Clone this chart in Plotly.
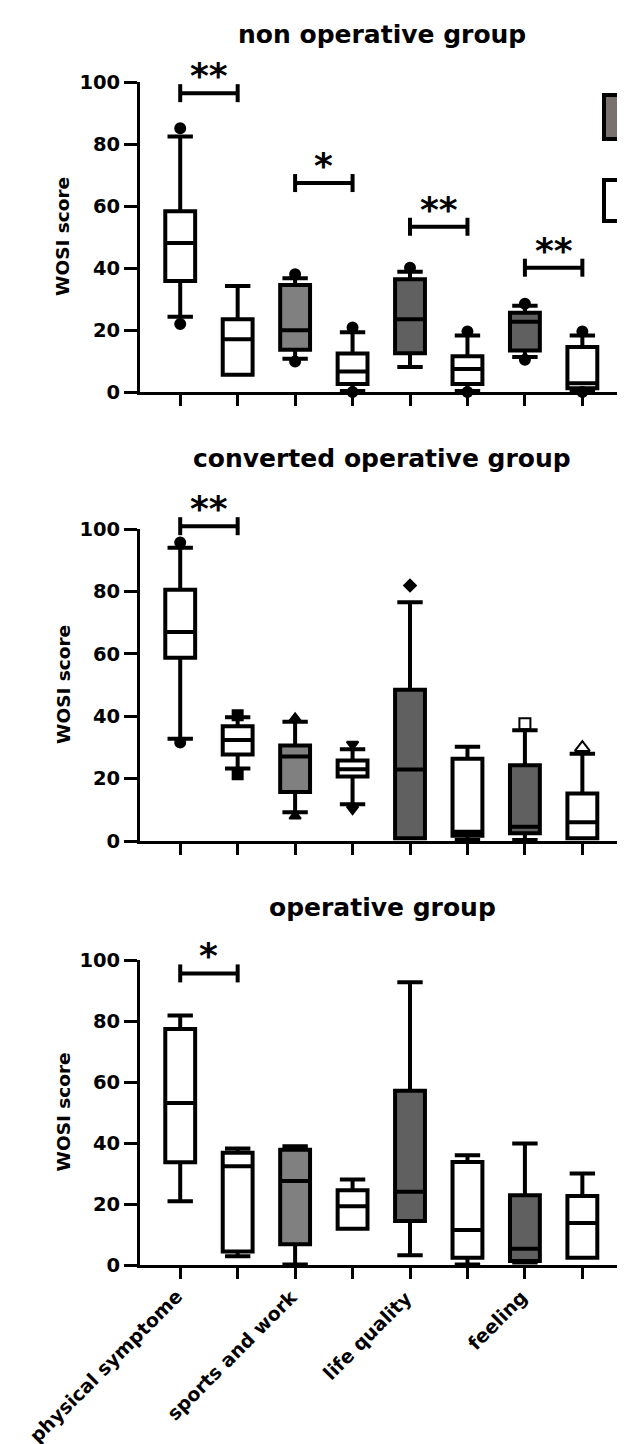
import plotly.graph_objects as go

FONT = "DejaVu Sans"

# ---------------- data ----------------
categories = ["physical symptome", "sports and work", "life quality", "feeling"]
category_pos = [0, 2, 4, 6]
panel_titles = ["non operative group", "converted operative group", "operative group"]
y_ticks = [0, 20, 40, 60, 80, 100]

WHITE = "#ffffff"
LIGHT = "#808080"
DARK = "#606060"
box_fills = [WHITE, WHITE, LIGHT, WHITE, DARK, WHITE, DARK, WHITE]

# non operative group
p1_upper = [82.4, 34.2, 36.7, 19.3, 38.8, 18.2, 27.8, 18.2]
p1_q3 = [58.3, 23.5, 34.5, 12.4, 36.4, 11.5, 25.6, 14.5]
p1_median = [48.1, 17.0, 19.9, 6.6, 23.5, 7.4, 22.7, 2.8]
p1_q1 = [35.8, 5.6, 13.6, 2.6, 12.5, 2.6, 13.4, 1.2]
p1_lower = [24.3, 5.6, 10.7, 0.3, 8.1, 0.3, 11.3, 0.3]
p1_out_box = [0, 0, 2, 2, 3, 3, 4, 5, 5, 6, 6, 7, 7]
p1_out_val = [85.1, 21.9, 38.0, 9.8, 20.8, 0.0, 40.1, 19.5, 0.0, 28.5, 10.4, 19.5, 0.0]
p1_out_sym = ["circle"] * 13

# converted operative group
p2_upper = [94.0, 39.7, 38.2, 29.4, 76.5, 30.2, 35.5, 28.0]
p2_q3 = [80.5, 36.8, 30.6, 25.8, 48.5, 26.4, 24.3, 15.2]
p2_median = [67.0, 32.4, 27.1, 23.0, 22.9, 3.0, 4.6, 6.0]
p2_q1 = [58.7, 27.7, 15.7, 20.7, 0.9, 1.7, 2.5, 0.9]
p2_lower = [32.8, 23.2, 9.2, 11.8, 0.9, 0.3, 0.3, 0.9]
p2_out_box = [0, 0, 1, 1, 2, 2, 3, 3, 4, 6, 7]
p2_out_val = [95.7, 31.6, 40.3, 21.4, 39.3, 8.0, 31.0, 10.2, 81.9, 37.6, 29.9]
p2_out_sym = ["circle", "circle", "square", "square", "triangle-up", "triangle-up",
              "triangle-down", "triangle-down", "diamond", "square-open", "triangle-up-open"]

# operative group
p3_upper = [81.8, 38.2, 38.9, 28.0, 92.7, 36.0, 39.8, 30.0]
p3_q3 = [77.4, 36.8, 37.8, 24.5, 57.1, 33.8, 22.9, 22.6]
p3_median = [53.1, 32.4, 27.5, 19.3, 24.0, 11.5, 5.3, 13.8]
p3_q1 = [33.7, 4.4, 6.8, 11.9, 14.4, 2.4, 1.3, 2.4]
p3_lower = [20.9, 2.9, 0.2, 11.9, 3.2, 0.2, 0.8, 2.4]
p3_out_box = []
p3_out_val = []
p3_out_sym = []

# significance brackets: (left box, right box, height, label)
p1_sig = [(0, 1, 96.4, "**"), (2, 3, 67.4, "*"), (4, 5, 53.3, "**"), (6, 7, 40.1, "**")]
p2_sig = [(0, 1, 100.9, "**")]
p3_sig = [(0, 1, 95.6, "*")]

panels = [
    (p1_upper, p1_q3, p1_median, p1_q1, p1_lower, p1_out_box, p1_out_val, p1_out_sym, p1_sig),
    (p2_upper, p2_q3, p2_median, p2_q1, p2_lower, p2_out_box, p2_out_val, p2_out_sym, p2_sig),
    (p3_upper, p3_q3, p3_median, p3_q1, p3_lower, p3_out_box, p3_out_val, p3_out_sym, p3_sig),
]

# ---------------- layout geometry ----------------
W, H = 625, 1444
x_range = [-0.70, 7.69]
x_dom = [132 / W, 614 / W]
y_doms = [[1 - 384 / H, 1 - 74 / H], [1 - 833 / H, 1 - 521 / H], [1 - 1257 / H, 1 - 952 / H]]
title_y = [1 - 26 / H, 1 - 450 / H, 1 - 899 / H]
y_range = [0, 100]
marker_sizes = {"diamond": 9, "square-open": 11, "triangle-up-open": 13}


def paper_x(v):
    return x_dom[0] + (v - x_range[0]) / (x_range[1] - x_range[0]) * (x_dom[1] - x_dom[0])


def paper_y(v, p):
    d = y_doms[p]
    return d[0] + (v - y_range[0]) / (y_range[1] - y_range[0]) * (d[1] - d[0])


fig = go.Figure()
shapes = []
annotations = []
bold = dict(family=FONT, color="black", weight="bold")

for p, (up, q3, med, q1, lo, ob, ov, osym, sig) in enumerate(panels):
    xa = "x" if p == 0 else f"x{p + 1}"
    ya = "y" if p == 0 else f"y{p + 1}"
    for i in range(8):
        fig.add_trace(go.Box(
            x=[i], q1=[q1[i]], median=[med[i]], q3=[q3[i]],
            lowerfence=[lo[i]], upperfence=[up[i]],
            width=0.52, whiskerwidth=0.85,
            fillcolor=box_fills[i], line=dict(color="black", width=4),
            boxpoints=False, xaxis=xa, yaxis=ya, showlegend=False, hoverinfo="skip",
        ))
    if ob:
        fig.add_trace(go.Scatter(
            x=ob, y=ov, mode="markers", xaxis=xa, yaxis=ya, cliponaxis=False,
            marker=dict(symbol=osym, size=[marker_sizes.get(s, 10) for s in osym],
                        color="black", opacity=1, line=dict(color="black", width=2)),
            showlegend=False, hoverinfo="skip",
        ))
    # axes
    ax_common = dict(showgrid=False, zeroline=False, showline=True, linecolor="black",
                     linewidth=3, ticks="outside", tickcolor="black", tickwidth=3,
                     automargin=False)
    fig.update_layout(**{
        ("xaxis" if p == 0 else f"xaxis{p + 1}"): dict(
            ax_common, domain=x_dom, range=x_range, anchor=ya, ticklen=11,
            tickmode="array", tickvals=list(range(8)), showticklabels=False,
        ),
        ("yaxis" if p == 0 else f"yaxis{p + 1}"): dict(
            ax_common, domain=y_doms[p], range=y_range, anchor=xa, ticklen=13,
            tickmode="array", tickvals=y_ticks, tickfont=dict(bold, size=19.5),
        ),
    })
    # panel title
    annotations.append(dict(x=374 / W, y=title_y[p], xref="paper", yref="paper",
                            text=panel_titles[p], showarrow=False, xanchor="center",
                            yanchor="middle", font=dict(bold, size=25)))
    # y axis title
    annotations.append(dict(x=55 / W, y=(y_doms[p][0] + y_doms[p][1]) / 2, xref="paper", yref="paper",
                            text="WOSI score", showarrow=False, textangle=-90,
                            xanchor="center", yanchor="middle", font=dict(bold, size=18.5)))
    # significance brackets
    for (a, b, h, lab) in sig:
        xa0, xa1, yy = paper_x(a), paper_x(b), paper_y(h, p)
        tick = 9 / H
        ln = dict(color="black", width=4)
        shapes.append(dict(type="line", xref="paper", yref="paper", x0=xa0, x1=xa1, y0=yy, y1=yy, line=ln))
        shapes.append(dict(type="line", xref="paper", yref="paper", x0=xa0, x1=xa0, y0=yy - tick, y1=yy + tick, line=ln))
        shapes.append(dict(type="line", xref="paper", yref="paper", x0=xa1, x1=xa1, y0=yy - tick, y1=yy + tick, line=ln))
        annotations.append(dict(x=(xa0 + xa1) / 2, y=yy, xref="paper", yref="paper", text=lab,
                                showarrow=False, xanchor="center", yanchor="bottom", yshift=-5,
                                font=dict(bold, size=36)))

# rotated category labels under the bottom panel
for pos, cat in zip(category_pos, categories):
    annotations.append(dict(x=pos, xref="x3", y=1 - 1283 / H, yref="paper", text=cat,
                            showarrow=False, textangle=-45, xanchor="right", yanchor="top",
                            xshift=9, yshift=8, font=dict(bold, size=19)))

# legend swatches (cropped at right edge)
shapes.append(dict(type="rect", xref="paper", yref="paper", x0=596 / W, x1=1.1,
                   y0=1 - 131 / H, y1=1 - 87 / H, fillcolor="#78716e", line=dict(color="black", width=4)))
shapes.append(dict(type="rect", xref="paper", yref="paper", x0=596 / W, x1=1.1,
                   y0=1 - 213 / H, y1=1 - 172 / H, fillcolor="white", line=dict(color="black", width=4)))

fig.update_layout(
    width=W, height=H, margin=dict(l=0, r=0, t=0, b=0, autoexpand=False),
    paper_bgcolor="white", plot_bgcolor="white",
    shapes=shapes, annotations=annotations, showlegend=False,
    boxmode="overlay",
)

fig.write_html("out.html")
